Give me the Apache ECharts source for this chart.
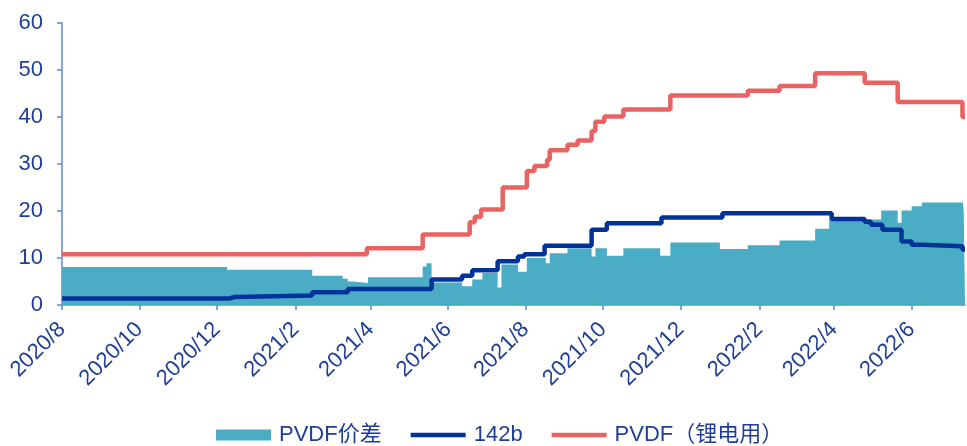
<!DOCTYPE html>
<html><head><meta charset="utf-8">
<script src="https://cdn.jsdelivr.net/npm/echarts@6/dist/echarts.min.js"></script>
<style>html,body{margin:0;padding:0;background:#fff}#c{width:967px;height:446px}</style>
</head><body><div id="c"></div>
<script>
// x-axis tick labels
const tickLabels = ['2020/8','2020/10','2020/12','2021/2','2021/4','2021/6','2021/8','2021/10','2021/12','2022/2','2022/4','2022/6'];
const yTicks = [0, 10, 20, 30, 40, 50, 60];

// PVDF价差 (area)
const spread = [
  ['2020-08-01',8.1],['2020-12-09',7.5],['2021-02-14',6.2],['2021-03-10',5.6],['2021-03-14',5.0],
  ['2021-03-18',4.7],['2021-03-30',5.9],['2021-05-12',8.2],['2021-05-15',8.9],['2021-05-19',4.8],
  ['2021-06-12',4.0],['2021-06-20',5.4],['2021-06-28',6.8],['2021-07-10',3.7],['2021-07-13',8.6],
  ['2021-07-26',7.1],['2021-08-02',10.0],['2021-08-17',8.9],['2021-08-20',11.0],['2021-09-03',12.1],
  ['2021-09-22',10.3],['2021-09-25',12.1],['2021-10-04',10.5],['2021-10-17',12.1],['2021-11-15',10.5],
  ['2021-11-23',13.3],['2022-01-01',11.9],['2022-01-23',12.7],['2022-02-17',13.7],['2022-03-17',16.2],
  ['2022-03-28',18.2],['2022-05-08',20.1],['2022-05-21',17.5],['2022-05-24',20.1],['2022-06-01',21.0],
  ['2022-06-09',21.8],['2022-07-11',22.6],['2022-07-12',19.9],['2022-07-13',19.9]
];

// 142b
const r142b = [
  ['2020-08-01',1.4],['2020-12-11',1.7],['2020-12-15',2.0],['2021-02-14',2.7],['2021-03-14',3.4],
  ['2021-05-19',5.4],['2021-06-12',6.2],['2021-06-20',7.4],['2021-07-10',9.3],['2021-07-26',10.3],
  ['2021-07-31',10.8],['2021-08-16',12.6],['2021-09-22',16.0],['2021-10-04',17.4],['2021-11-16',18.6],
  ['2022-01-03',19.5],['2022-03-30',18.3],['2022-04-25',17.7],['2022-04-30',17.1],['2022-05-09',16.0],
  ['2022-05-24',13.5],['2022-06-01',12.8],['2022-06-09',12.5],['2022-07-11',11.8],['2022-07-13',11.8]
];

// PVDF（锂电用）
const pvdf = [
  ['2020-08-01',10.8],['2021-03-29',12.1],['2021-05-12',15.0],['2021-06-18',17.6],['2021-06-22',18.8],
  ['2021-06-27',20.3],['2021-07-14',25.0],['2021-08-02',28.5],['2021-08-08',29.6],['2021-08-18',30.9],
  ['2021-08-20',32.9],['2021-09-03',34.1],['2021-09-11',35.0],['2021-09-22',37.0],['2021-09-25',39.0],
  ['2021-10-02',40.1],['2021-10-17',41.6],['2021-11-23',44.6],['2022-01-23',45.6],['2022-02-17',46.6],
  ['2022-03-17',49.3],['2022-04-25',47.3],['2022-05-21',43.2],['2022-07-11',40.0],['2022-07-13',40.0]
];

const seriesNames = ['PVDF价差', '142b', 'PVDF（锂电用）'];
const xEnd = '2022-07-13';

const DAY = 86400000;
const t0 = Date.UTC(2020, 7, 1);
const toDay = s => { const p = s.split(/[-\/]/).map(Number); return (Date.UTC(p[0], p[1] - 1, p[2] || 1) - t0) / DAY; };
const conv = arr => arr.map(([d, v]) => [toDay(d), v]);
const tickValues = tickLabels.map(toDay);
const labelOf = {}; tickLabels.forEach((s, i) => { labelOf[tickValues[i]] = s; });

const FONT = "'Liberation Sans', Arial, 'Noto Sans CJK SC', sans-serif";
const LABEL = '#1F3F96';
const AXIS = '#5B8BD3';
const LINE_ICON = 'path://M0 0H58V4.5H0Z';

const chart = echarts.init(document.getElementById('c'), null, {renderer: 'canvas'});
chart.setOption({
  animation: false,
  backgroundColor: '#fff',
  grid: {left: 62, right: 2, top: 23, bottom: 141, containLabel: false},
  legend: {
    left: 211, top: 419,
    itemWidth: 55, itemHeight: 11, itemGap: 29,
    symbolKeepAspect: true,
    textStyle: {fontFamily: FONT, fontSize: 22, color: LABEL, padding: [0, 0, 0, 3]},
    data: [
      {name: seriesNames[0], icon: 'rect'},
      {name: seriesNames[1], icon: LINE_ICON},
      {name: seriesNames[2], icon: LINE_ICON}
    ]
  },
  xAxis: {
    type: 'value',
    min: tickValues[0],
    max: toDay(xEnd),
    splitLine: {show: false},
    axisLine: {show: true, lineStyle: {color: AXIS, width: 1.5}},
    axisTick: {show: true, length: 5, lineStyle: {color: AXIS, width: 1.5}, customValues: tickValues},
    axisLabel: {
      customValues: tickValues,
      rotate: 45, margin: 21,
      fontFamily: FONT, fontSize: 22, color: LABEL,
      formatter: v => labelOf[v] || ''
    }
  },
  yAxis: {
    type: 'value',
    min: yTicks[0], max: yTicks[yTicks.length - 1], interval: 10,
    splitLine: {show: false},
    axisLine: {show: true, lineStyle: {color: AXIS, width: 1.5}},
    axisTick: {show: true, length: 5, lineStyle: {color: AXIS, width: 1.5}},
    axisLabel: {margin: 19, fontFamily: FONT, fontSize: 22, color: LABEL}
  },
  series: [
    {
      name: seriesNames[0], type: 'line', step: 'end', data: conv(spread),
      symbol: 'none', color: '#4BACC6',
      lineStyle: {width: 0, color: '#4BACC6'},
      itemStyle: {color: '#4BACC6'},
      areaStyle: {color: '#4BACC6', opacity: 1},
      z: 1
    },
    {
      name: seriesNames[1], type: 'line', step: 'end', data: conv(r142b),
      symbol: 'none', color: '#003399',
      lineStyle: {width: 4.5, color: '#003399'},
      itemStyle: {color: '#003399'},
      z: 3
    },
    {
      name: seriesNames[2], type: 'line', step: 'end', data: conv(pvdf),
      symbol: 'none', color: '#E96363',
      lineStyle: {width: 4.5, color: '#E96363'},
      itemStyle: {color: '#E96363'},
      z: 2
    }
  ]
});
</script>
</body></html>
